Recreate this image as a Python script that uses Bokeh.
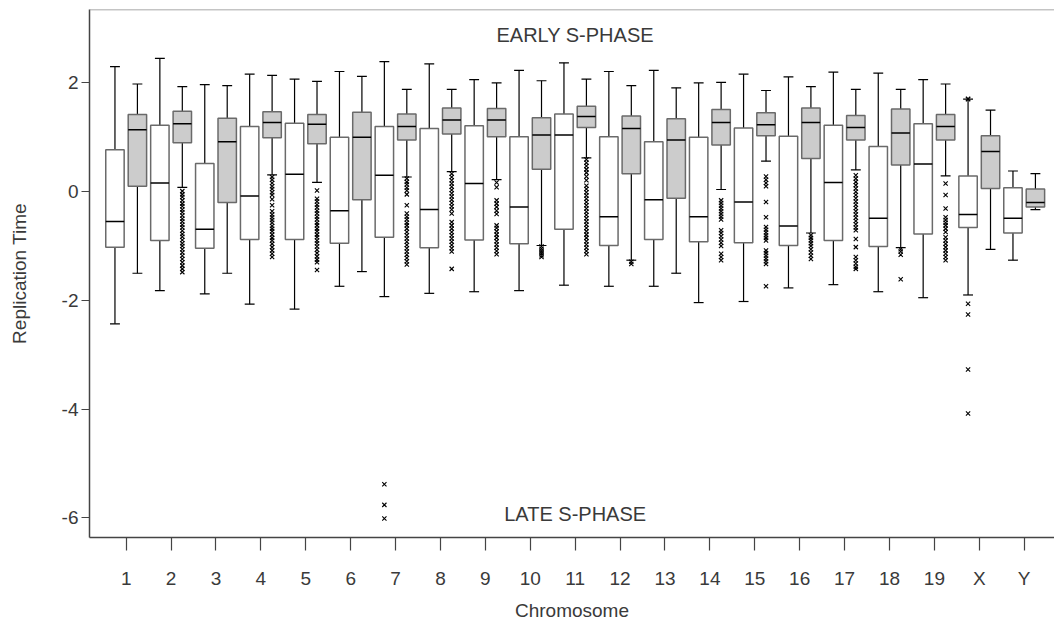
from bokeh.plotting import figure
from bokeh.models import ColumnDataSource, FixedTicker, Span
from bokeh.core.properties import value
from bokeh.embed import file_html
from bokeh.resources import INLINE

# Chromosome categories (tick labels)
chromosomes = ["1", "2", "3", "4", "5", "6", "7", "8", "9", "10", "11",
               "12", "13", "14", "15", "16", "17", "18", "19", "X", "Y"]
y_ticks = [-6, -4, -2, 0, 2]
y_tick_labels = ["-6", "-4", "-2", "0", "2"]

# White boxes: whisker low, Q1, median, Q3, whisker high
white_low = [-2.43, -1.82, -1.88, -2.07, -2.16, -1.74, -1.93, -1.87, -1.84, -1.82, -1.72,
             -1.74, -1.74, -2.04, -2.02, -1.77, -1.71, -1.84, -1.95, -1.90, -1.26]
white_q1 = [-1.02, -0.90, -1.04, -0.88, -0.88, -0.95, -0.84, -1.03, -0.89, -0.96, -0.69,
            -0.99, -0.88, -0.92, -0.94, -0.99, -0.90, -1.01, -0.78, -0.66, -0.76]
white_med = [-0.55, 0.16, -0.69, -0.08, 0.32, -0.35, 0.30, -0.33, 0.15, -0.28, 1.04,
             -0.46, -0.15, -0.46, -0.19, -0.63, 0.17, -0.49, 0.51, -0.42, -0.49]
white_q3 = [0.77, 1.22, 0.52, 1.20, 1.26, 1.00, 1.20, 1.16, 1.21, 1.01, 1.43,
            1.01, 0.92, 1.00, 1.17, 1.02, 1.22, 0.83, 1.25, 0.29, 0.07]
white_high = [2.30, 2.45, 1.97, 2.16, 2.07, 2.21, 2.39, 2.35, 2.06, 2.23, 2.37,
              2.21, 2.23, 2.00, 2.16, 2.11, 2.20, 2.18, 2.06, 1.70, 0.38]

# Gray boxes: whisker low, Q1, median, Q3, whisker high
gray_low = [-1.50, 0.08, -1.50, 0.31, 0.17, -1.47, 0.27, 0.37, 0.22, -0.99, 0.62,
            -1.26, -1.50, 0.04, 0.56, -0.76, 0.40, -1.03, 0.29, -1.06, -0.33]
gray_q1 = [0.10, 0.90, -0.20, 0.99, 0.88, -0.15, 0.95, 1.06, 1.01, 0.41, 1.18,
           0.33, -0.12, 0.86, 1.03, 0.61, 0.95, 0.49, 0.95, 0.06, -0.28]
gray_med = [1.14, 1.25, 0.92, 1.27, 1.24, 1.00, 1.20, 1.32, 1.32, 1.04, 1.38,
            1.16, 0.95, 1.27, 1.23, 1.27, 1.18, 1.08, 1.20, 0.74, -0.20]
gray_q3 = [1.42, 1.48, 1.35, 1.47, 1.42, 1.46, 1.43, 1.54, 1.53, 1.36, 1.57,
           1.39, 1.34, 1.51, 1.45, 1.54, 1.40, 1.52, 1.42, 1.03, 0.05]
gray_high = [1.98, 1.93, 1.95, 2.14, 2.03, 2.12, 1.88, 1.88, 2.00, 2.04, 2.07,
             1.95, 1.91, 2.01, 1.86, 1.93, 1.88, 1.88, 1.98, 1.50, 0.33]

# Outlying values, keyed by chromosome
white_outliers = {
    "7": [-5.38, -5.76, -6.01],
    "X": [1.70, 1.71, -2.06, -2.26, -3.27, -4.08],
}
gray_outliers = {
    "2": [0.01, -0.05, -0.10, -0.16, -0.22, -0.27, -0.33, -0.38, -0.44, -0.50, -0.55,
          -0.61, -0.66, -0.72, -0.78, -0.83, -0.89, -0.95, -1.00, -1.06, -1.12,
          -1.18, -1.24, -1.30, -1.36, -1.42, -1.48],
    "4": [0.27, 0.22, 0.16, 0.10, 0.05, -0.01, -0.06, -0.14, -0.25, -0.36, -0.42,
          -0.47, -0.52, -0.57, -0.63, -0.68, -0.73, -0.79, -0.85, -0.90, -0.96,
          -1.02, -1.08, -1.14, -1.20],
    "5": [0.02, -0.13, -0.18, -0.24, -0.29, -0.35, -0.40, -0.46, -0.51, -0.57, -0.62,
          -0.68, -0.73, -0.79, -0.84, -0.90, -0.95, -1.01, -1.07, -1.13, -1.19,
          -1.25, -1.30, -1.44],
    "7": [0.24, 0.18, 0.13, 0.07, 0.02, -0.05, -0.25, -0.40, -0.46, -0.51, -0.57,
          -0.62, -0.68, -0.74, -0.80, -0.86, -0.92, -0.98, -1.04, -1.10, -1.16,
          -1.22, -1.28, -1.34],
    "8": [0.33, 0.27, 0.21, 0.15, 0.09, 0.03, -0.03, -0.09, -0.15, -0.21, -0.27,
          -0.33, -0.40, -0.56, -0.62, -0.68, -0.74, -0.80, -0.86, -0.92, -0.98,
          -1.04, -1.10, -1.42],
    "9": [0.17, 0.08, -0.16, -0.22, -0.28, -0.35, -0.41, -0.62, -0.67, -0.73, -0.79,
          -0.85, -0.91, -0.97, -1.03, -1.09, -1.15],
    "10": [-1.01, -1.05, -1.09, -1.13, -1.17, -1.20],
    "11": [0.59, 0.53, 0.47, 0.41, 0.35, 0.28, 0.21, 0.11, 0.05, -0.01, -0.07, -0.13,
           -0.19, -0.25, -0.31, -0.37, -0.43, -0.49, -0.55, -0.61, -0.67, -0.73,
           -0.79, -0.85, -0.91, -0.97, -1.03, -1.09, -1.15],
    "12": [-1.29, -1.33],
    "14": [-0.16, -0.21, -0.26, -0.31, -0.36, -0.41, -0.46, -0.51, -0.71, -0.76,
           -0.82, -0.88, -0.94, -1.00, -1.14, -1.20, -1.26],
    "15": [0.28, 0.22, 0.16, 0.10, -0.19, -0.47, -0.65, -0.70, -0.75, -0.80, -0.85,
           -0.90, -1.08, -1.13, -1.18, -1.23, -1.28, -1.33, -1.74],
    "16": [-0.80, -0.85, -0.90, -0.95, -1.00, -1.06, -1.12, -1.18, -1.24],
    "17": [0.30, 0.24, 0.18, 0.12, 0.06, 0.00, -0.06, -0.12, -0.18, -0.24, -0.30,
           -0.36, -0.42, -0.48, -0.54, -0.60, -0.66, -0.71, -0.87, -1.02, -1.20,
           -1.26, -1.32, -1.38, -1.42],
    "18": [-1.06, -1.10, -1.16, -1.61],
    "19": [0.15, -0.06, -0.31, -0.47, -0.52, -0.57, -0.62, -0.68, -0.74, -0.84,
           -0.90, -0.96, -1.02, -1.08, -1.14, -1.20, -1.26],
}

FONT = "Liberation Sans"
TEXT = "#3a3a3a"
OFFSET = 0.25      # horizontal shift of each box from its chromosome tick
BOX_W = 0.41
CAP_W = 0.22

positions = list(range(1, len(chromosomes) + 1))

p = figure(width=1054, height=624, output_backend="svg", toolbar_location=None,
           x_range=(0.183, 21.675), y_range=(-6.36, 3.35),
           min_border_left=89, min_border_right=0, min_border_top=9,
           min_border_bottom=87)
p.outline_line_color = None
p.xgrid.visible = False
p.ygrid.visible = False
p.background_fill_color = "white"
p.border_fill_color = "white"


def draw_boxes(shift, low, q1, med, q3, high, fill, outliers):
    xs = [x + shift for x in positions]
    src = ColumnDataSource(dict(x=xs, low=low, q1=q1, med=med, q3=q3, high=high,
                                cl=[x - CAP_W / 2 for x in xs],
                                cr=[x + CAP_W / 2 for x in xs],
                                ml=[x - BOX_W / 2 for x in xs],
                                mr=[x + BOX_W / 2 for x in xs]))
    # whiskers and their caps
    p.segment(x0="x", y0="q3", x1="x", y1="high", source=src, line_color="black", line_width=1.2)
    p.segment(x0="x", y0="q1", x1="x", y1="low", source=src, line_color="black", line_width=1.2)
    p.segment(x0="cl", y0="high", x1="cr", y1="high", source=src, line_color="black", line_width=1.2)
    p.segment(x0="cl", y0="low", x1="cr", y1="low", source=src, line_color="black", line_width=1.2)
    # interquartile box
    p.vbar(x="x", width=BOX_W, top="q3", bottom="q1", source=src,
           fill_color=fill, line_color="#6a6a6a", line_width=1.5)
    # median
    p.segment(x0="ml", y0="med", x1="mr", y1="med", source=src, line_color="black", line_width=1.5)
    # outliers
    ox, oy = [], []
    for name, vals in outliers.items():
        xpos = positions[chromosomes.index(name)] + shift
        ox.extend([xpos] * len(vals))
        oy.extend(vals)
    p.scatter(ox, oy, marker="x", size=6, line_color="black", line_width=1.1)


draw_boxes(-OFFSET, white_low, white_q1, white_med, white_q3, white_high, "white", white_outliers)
draw_boxes(OFFSET, gray_low, gray_q1, gray_med, gray_q3, gray_high, "#cccccc", gray_outliers)

# phase annotations
p.text(x=[11], y=[2.89], text=["EARLY S-PHASE"], text_align="center", text_baseline="middle",
       text_font=value(FONT), text_font_size="20px", text_color=TEXT)
p.text(x=[11], y=[-5.92], text=["LATE S-PHASE"], text_align="center", text_baseline="middle",
       text_font=value(FONT), text_font_size="20px", text_color=TEXT)

# top border line
p.add_layout(Span(location=3.35, dimension="width", line_color="#8a8a8a", line_width=1.5))

# x axis
xa = p.xaxis[0]
xa.ticker = FixedTicker(ticks=positions)
xa.major_label_overrides = {pos: lab for pos, lab in zip(positions, chromosomes)}
xa.axis_label = "Chromosome"
xa.major_tick_out = 13
xa.major_tick_in = 0
xa.minor_tick_line_color = None
xa.major_label_standoff = 17

# y axis
ya = p.yaxis[0]
ya.ticker = FixedTicker(ticks=y_ticks)
ya.major_label_overrides = {t: lab for t, lab in zip(y_ticks, y_tick_labels)}
ya.axis_label = "Replication Time"
ya.major_tick_out = 8
ya.major_tick_in = 0
ya.minor_tick_line_color = None
ya.major_label_standoff = 3
ya.axis_label_standoff = 29

for ax in (xa, ya):
    ax.axis_line_color = "#444444"
    ax.axis_line_width = 1.5
    ax.major_tick_line_color = "#444444"
    ax.major_tick_line_width = 1.2
    ax.major_label_text_font = FONT
    ax.major_label_text_font_size = "19px"
    ax.major_label_text_color = TEXT
    ax.axis_label_text_font = FONT
    ax.axis_label_text_font_size = "19px"
    ax.axis_label_text_font_style = "normal"
    ax.axis_label_text_color = TEXT
xa.axis_label_standoff = 8

open("out.html", "w").write(file_html(p, INLINE))
